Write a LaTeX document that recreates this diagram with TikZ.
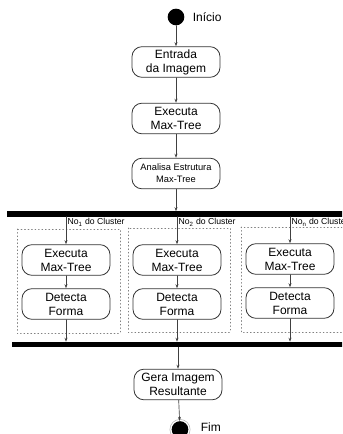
\documentclass[tikz,border=0pt]{standalone}
\usepackage{fontspec}
\setmainfont{Liberation Sans}
\usetikzlibrary{arrows.meta,positioning}

\begin{document}
\begin{tikzpicture}
		[x=0.75pt,y=-0.75pt,line cap=round,
		%Styles
		flow/.style={->,>={Stealth[length=3pt,width=2.2pt]},draw=linecolor,line width=0.5pt},
		activity/.style={draw=boxcolor,line width=0.6pt,rounded corners=7.5pt,minimum width=66pt,minimum height=23pt,inner sep=1pt,align=center,font=\fontsize{9}{10.5}\selectfont},
		small activity/.style={activity,font=\fontsize{7}{8.8}\selectfont},
		dot/.style={circle,fill=black,inner sep=0pt,minimum size=12.5pt},
		sync bar/.style={fill=black,inner sep=0pt,minimum height=3.8pt},
		cluster/.style={draw=gray,dotted,line width=0.6pt},
		cluster label/.style={anchor=north west,inner sep=1pt,font=\fontsize{6.5}{7}\selectfont},
		state text/.style={inner sep=1pt,font=\fontsize{9}{10.5}\selectfont}
		]
		
		%Colors
		\colorlet{linecolor}{black!75}
		\colorlet{boxcolor}{black!80}
		
		\useasboundingbox (0,0) rectangle (342,434);
		\clip (0,0) rectangle (342,434);
		
		%The graphic
		\node[dot] (start) at (176,17) {};
		\node[state text,right=5pt of start] (start text) {Início};
		
		\node[activity] (entrada) at (176,62) {Entrada\\da Imagem};
		\node[activity] (exec) at (176,118.5) {Executa\\Max-Tree};
		\node[small activity] (analisa) at (176,173.5) {Analisa Estrutura\\Max-Tree};
		
		\node[sync bar,minimum width=252.75pt] (topbar) at (175.5,214) {};
		\node[sync bar,minimum width=249pt] (bottombar) at (178,344.5) {};
		
		\draw[flow] (start) -- (entrada);
		\draw[flow] (entrada) -- (exec);
		\draw[flow] (exec) -- (analisa);
		\draw[flow] (analisa) -- (analisa |- topbar.north);
		
		%Cluster 1
		\draw[cluster] (17,229) rectangle (120,333);
		\node[activity] (exec1) at (66,260) {Executa\\Max-Tree};
		\node[activity] (detect1) at (66,304) {Detecta\\Forma};
		\node[cluster label] (label1) at (topbar.south -| exec1) {No\textsubscript{1} do Cluster};
		\draw[flow] (topbar.south -| exec1) -- (exec1);
		\draw[flow] (exec1) -- (detect1);
		\draw[flow] (detect1) -- (bottombar.north -| detect1);
		
		%Cluster 2
		\draw[cluster] (128,228) rectangle (230,332);
		\node[activity] (exec2) at (177,260) {Executa\\Max-Tree};
		\node[activity] (detect2) at (177,304) {Detecta\\Forma};
		\node[cluster label] (label2) at (topbar.south -| exec2) {No\textsubscript{2} do Cluster};
		\draw[flow] (topbar.south -| exec2) -- (exec2);
		\draw[flow] (exec2) -- (detect2);
		\draw[flow] (detect2) -- (bottombar.north -| detect2);
		
		%Cluster n
		\draw[cluster] (241,227) rectangle (346,332);
		\node[activity] (exec3) at (290,259) {Executa\\Max-Tree};
		\node[activity] (detect3) at (290,303) {Detecta\\Forma};
		\node[cluster label] (label3) at (topbar.south -| exec3) {No\textsubscript{n} do Cluster};
		\draw[flow] (topbar.south -| exec3) -- (exec3);
		\draw[flow] (exec3) -- (detect3);
		\draw[flow] (detect3) -- (bottombar.north -| detect3);
		
		\node[activity] (gera) at (178,384.5) {Gera Imagem\\Resultante};
		\node[dot] (end) at (180,429.5) {};
		\draw[gray!60,line width=0.4pt] (end.center) circle[radius=7.6pt];
		\node[state text,right=8pt of end,yshift=1.5pt] (end text) {Fim};
		
		\draw[flow] (bottombar.south -| gera) -- (gera);
		\draw[flow] (gera) -- (end);
	\end{tikzpicture}
\end{document}
